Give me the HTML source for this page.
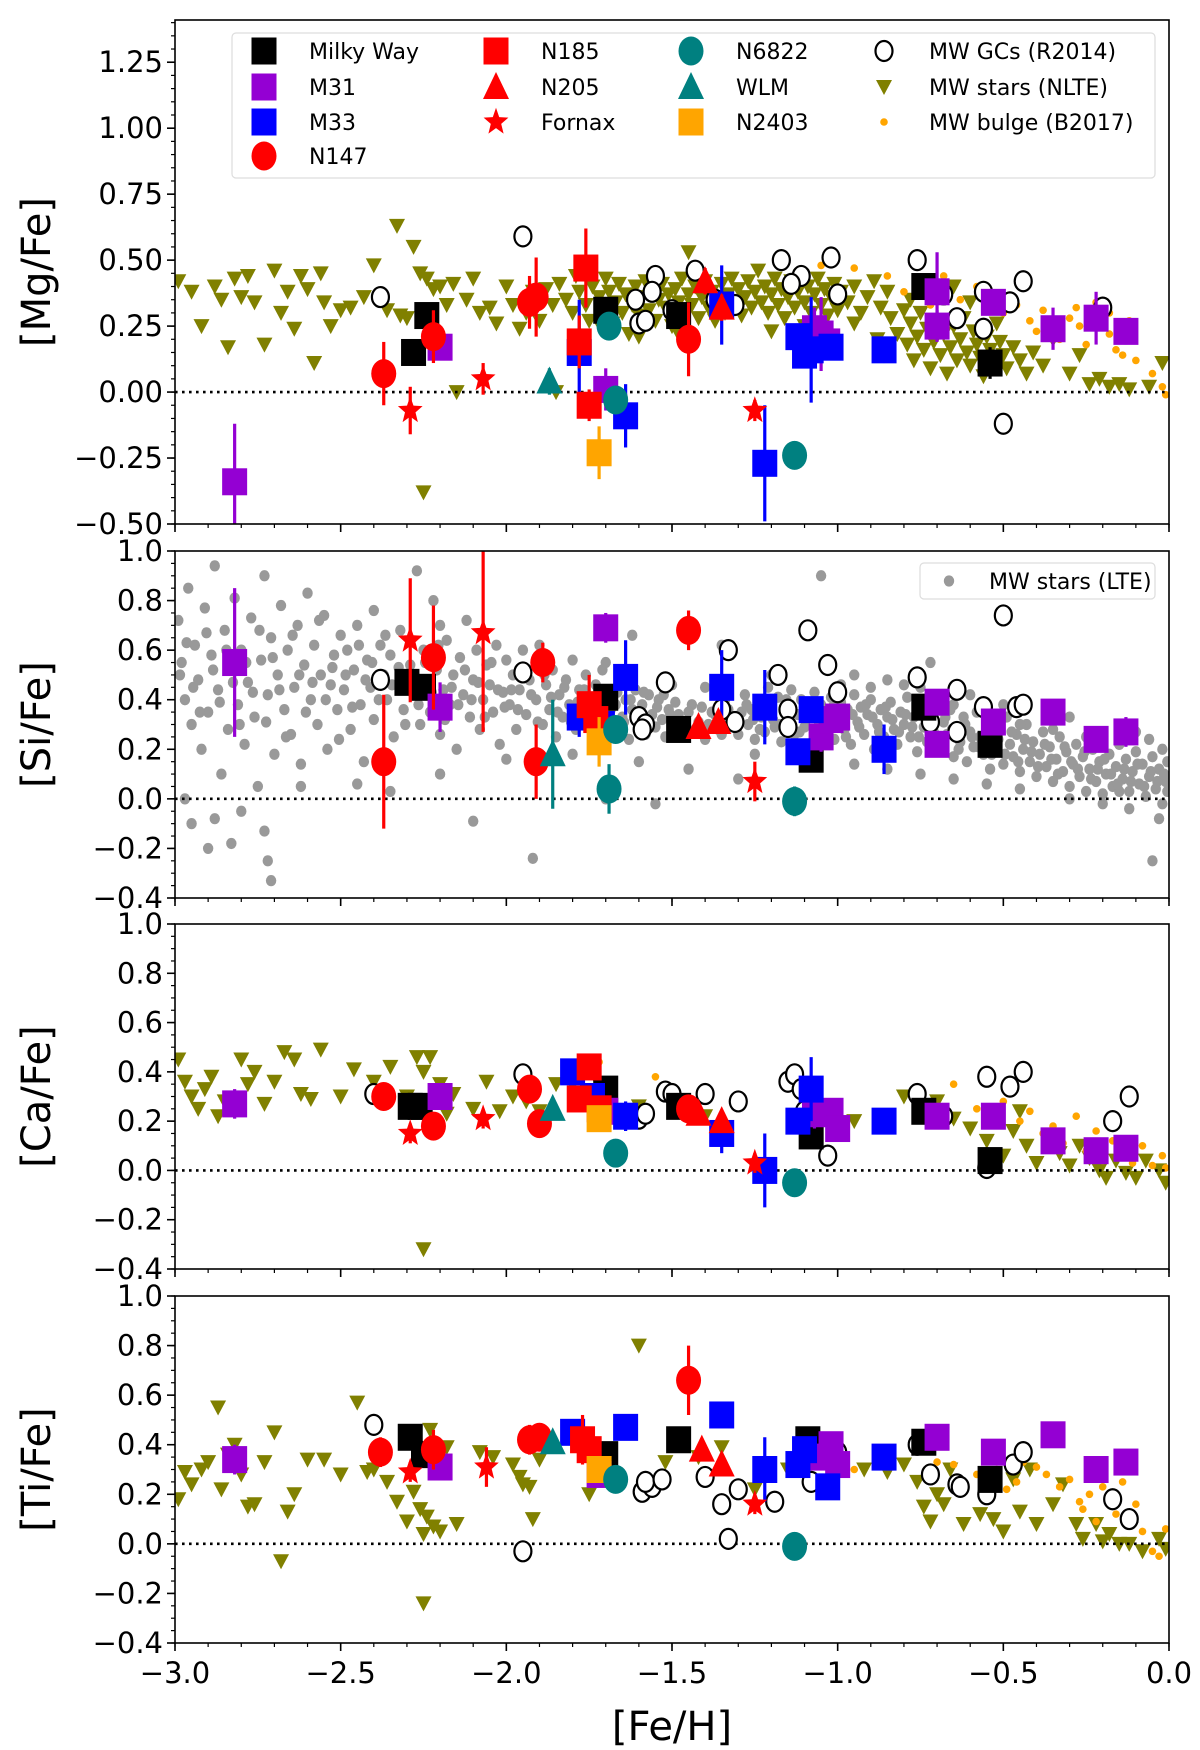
<!DOCTYPE html>
<html><head><meta charset="utf-8">
<style>
html,body{margin:0;padding:0;background:#fff;}
svg{display:block;font-family:"DejaVu Sans","Liberation Sans",sans-serif;}
</style></head>
<body>
<svg id="chart" xmlns="http://www.w3.org/2000/svg" width="1200" height="1750" viewBox="0 0 1200 1750"></svg>
<script>
// ---------- DATA ([Fe/H], [X/Fe], error) ----------
const xTicks = [-3.0,-2.5,-2.0,-1.5,-1.0,-0.5,0.0];
const xTickLabels = ["\u22123.0","\u22122.5","\u22122.0","\u22121.5","\u22121.0","\u22120.5","0.0"];
const mgTicks = [1.25,1.00,0.75,0.50,0.25,0.00,-0.25,-0.50];
const mgTickLabels = ["1.25","1.00","0.75","0.50","0.25","0.00","\u22120.25","\u22120.50"];
const xfeTicks = [1.0,0.8,0.6,0.4,0.2,0.0,-0.2,-0.4];
const xfeTickLabels = ["1.0","0.8","0.6","0.4","0.2","0.0","\u22120.2","\u22120.4"];

// Panel 1: Mg
const mg_mw = [[-2.28,0.15,0.04],[-2.24,0.29,0.04],[-1.70,0.31,0.05],[-1.48,0.29,0.04],[-0.74,0.40,0.04],[-0.54,0.11,0.06]];
const mg_m31 = [[-2.82,-0.34,0.22],[-2.20,0.17,0.05],[-1.70,0.01,0.08],[-1.07,0.24,0.08],[-1.03,0.19,0.06],[-0.70,0.38,0.15],[-0.70,0.25,0.06],[-0.53,0.34,0.04],[-0.35,0.24,0.08],[-0.22,0.28,0.10],[-0.13,0.23,0.05],[-1.05,0.22,0.14]];
const mg_m33 = [[-1.78,0.15,0.20],[-1.64,-0.09,0.12],[-1.35,0.33,0.15],[-1.12,0.21,0.05],[-1.08,0.16,0.20],[-1.02,0.17,0.04],[-0.86,0.16,0.05],[-1.22,-0.27,0.22],[-1.10,0.14,0.05]];
const mg_n147 = [[-2.37,0.07,0.12],[-2.22,0.21,0.10],[-1.93,0.34,0.10],[-1.91,0.36,0.15],[-1.45,0.20,0.14]];
const mg_n185 = [[-1.76,0.47,0.15],[-1.78,0.19,0.10],[-1.75,-0.05,0.06]];
const mg_n205 = [[-1.40,0.42,0.05],[-1.35,0.32,0.05]];
const mg_fornax = [[-2.29,-0.07,0.09],[-2.07,0.05,0.06],[-1.25,-0.07,0.04]];
const mg_n6822 = [[-1.69,0.25,0.04],[-1.67,-0.03,0.04],[-1.13,-0.24,0.02]];
const mg_wlm = [[-1.87,0.04,0.05]];
const mg_n2403 = [[-1.72,-0.23,0.10]];
const mg_gcs = [[-2.38,0.36],[-1.95,0.59],[-1.60,0.26],[-1.58,0.27],[-1.55,0.44],[-1.56,0.38],[-1.43,0.46],[-1.37,0.35],[-1.31,0.33],[-1.17,0.50],[-1.11,0.44],[-1.02,0.51],[-1.00,0.37],[-1.14,0.41],[-0.76,0.50],[-0.68,0.37],[-0.64,0.28],[-0.56,0.38],[-0.56,0.24],[-0.48,0.34],[-0.44,0.42],[-0.50,-0.12],[-0.20,0.32],[-1.35,0.34],[-1.50,0.31],[-1.61,0.35]];
const mg_nlte = [[-2.99,0.42],[-2.95,0.38],[-2.92,0.25],[-2.88,0.40],[-2.86,0.35],[-2.84,0.17],[-2.82,0.43],[-2.80,0.36],[-2.78,0.44],[-2.76,0.34],[-2.73,0.18],[-2.70,0.46],[-2.68,0.30],[-2.66,0.38],[-2.64,0.24],[-2.62,0.44],[-2.60,0.39],[-2.58,0.11],[-2.56,0.45],[-2.55,0.34],[-2.53,0.25],[-2.50,0.31],[-2.47,0.32],[-2.43,0.36],[-2.40,0.48],[-2.38,0.35],[-2.36,0.31],[-2.33,0.63],[-2.32,0.29],[-2.30,0.28],[-2.28,0.55],[-2.26,0.45],[-2.24,0.43],[-2.22,0.39],[-2.20,0.40],[-2.18,0.33],[-2.16,0.41],[-2.15,0.0],[-2.25,-0.38],[-2.12,0.35],[-2.10,0.43],[-2.08,0.30],[-2.05,0.32],[-2.03,0.26],[-2.00,0.40],[-1.98,0.33],[-1.96,0.24],[-1.94,0.30],[-1.92,0.38],[-1.90,0.27],[-1.88,0.39],[-1.86,0.33],[-1.85,0.0],
[-1.84,0.41],[-1.82,0.35],[-1.80,0.30],[-1.79,0.44],[-1.78,0.38],[-1.76,0.33],[-1.75,0.27],[-1.74,0.40],[-1.72,0.36],[-1.71,0.31],[-1.70,0.43],[-1.69,0.38],[-1.68,0.26],[-1.67,0.34],[-1.66,0.41],[-1.65,0.30],[-1.64,0.37],[-1.63,0.22],[-1.62,0.33],[-1.61,0.40],[-1.60,0.29],[-1.59,0.36],[-1.58,0.42],[-1.57,0.31],[-1.56,0.38],[-1.55,0.27],[-1.54,0.35],[-1.53,0.41],[-1.52,0.32],[-1.51,0.37],[-1.50,0.25],[-1.49,0.39],[-1.48,0.34],[-1.47,0.43],[-1.46,0.30],[-1.45,0.37],[-1.44,0.33],[-1.43,0.40],[-1.42,0.28],[-1.41,0.36],[-1.40,0.42],[-1.39,0.32],[-1.38,0.38],[-1.37,0.27],[-1.36,0.35],[-1.35,0.41],[-1.34,0.30],[-1.33,0.37],[-1.32,0.43],[-1.31,0.33],[-1.30,0.39],[-1.29,0.29],[-1.28,0.36],[-1.27,0.42],[-1.26,0.32],[-1.25,0.38],[-1.24,0.46],[-1.23,0.34],[-1.22,0.40],[-1.21,0.30],[-1.20,0.37],[-1.19,0.43],[-1.18,0.33],[-1.17,0.39],[-1.16,0.28],[-1.15,0.36],[-1.14,0.42],[-1.13,0.32],[-1.12,0.38],[-1.11,0.44],[-1.10,0.34],[-1.09,0.40],[-1.08,0.30],[-1.07,0.37],[-1.06,0.43],[-1.05,0.33],[-1.04,0.39],[-1.03,0.29],[-1.02,0.36],[-1.01,0.41],[-1.00,0.31],[-0.99,0.38],[-0.97,0.34],[-0.95,0.40],[-0.93,0.30],[-0.91,0.36],[-0.89,0.42],[-0.87,0.32],[-0.85,0.38],[-1.72,0.26],[-1.60,0.21],[-1.48,0.22],[-1.20,0.23],[-1.05,0.22],[-1.45,0.53],[-0.88,0.20],[-0.95,0.26],[-1.10,0.25],
[-0.84,0.28],[-0.82,0.22],[-0.80,0.31],[-0.79,0.18],[-0.78,0.26],[-0.77,0.12],[-0.76,0.21],[-0.75,0.30],[-0.74,0.16],[-0.73,0.24],[-0.72,0.09],[-0.71,0.19],[-0.70,0.27],[-0.69,0.14],[-0.68,0.22],[-0.67,0.07],[-0.66,0.17],[-0.65,0.25],[-0.64,0.12],[-0.63,0.20],[-0.62,0.28],[-0.61,0.15],[-0.60,0.10],[-0.59,0.23],[-0.58,0.18],[-0.57,0.13],[-0.56,0.06],[-0.55,0.21],[-0.54,0.16],[-0.53,0.11],[-0.52,0.26],[-0.51,0.19],[-0.50,0.14],[-0.49,0.09],[-0.47,0.17],[-0.45,0.12],[-0.43,0.07],[-0.41,0.15],[-0.38,0.10],[-0.35,0.20],[-0.30,0.07],[-0.27,0.14],[-0.24,0.03],[-0.21,0.05],[-0.18,0.02],[-0.15,0.03],[-0.12,0.01],[-0.06,0.02],[-0.02,0.11],[-0.60,0.34],[-0.65,0.40],[-0.70,0.36],[-0.78,0.35]];
const mg_bulge = [[-1.05,0.48],[-0.95,0.47],[-0.85,0.44],[-0.80,0.38],[-0.68,0.44],[-0.63,0.35],[-0.58,0.40],[-0.50,0.30],[-0.46,0.33],[-0.42,0.27],[-0.38,0.31],[-0.33,0.20],[-0.30,0.28],[-0.28,0.32],[-0.25,0.18],[-0.22,0.34],[-0.20,0.25],[-0.18,0.22],[-0.16,0.16],[-0.14,0.14],[-0.12,0.27],[-0.10,0.12],[-0.05,0.07],[-0.02,0.02],[-0.01,-0.01],[-0.72,0.33],[-0.55,0.36],[-0.40,0.23],[-0.27,0.25],[-0.18,0.30]];

// Panel 2: Si
const si_mw = [[-2.30,0.47,0.05],[-2.25,0.45,0.05],[-1.70,0.41,0.05],[-1.48,0.28,0.04],[-1.08,0.16,0.05],[-0.74,0.37,0.04],[-0.54,0.22,0.04]];
const si_m31 = [[-2.82,0.55,0.30],[-2.20,0.37,0.10],[-1.70,0.69,0.06],[-1.05,0.25,0.06],[-1.02,0.32,0.05],[-0.70,0.39,0.04],[-0.70,0.22,0.04],[-0.53,0.31,0.04],[-0.35,0.35,0.04],[-0.22,0.24,0.04],[-0.13,0.27,0.06],[-1.00,0.33,0.05]];
const si_m33 = [[-1.78,0.33,0.08],[-1.64,0.49,0.15],[-1.35,0.45,0.15],[-1.22,0.37,0.15],[-1.12,0.19,0.05],[-1.08,0.36,0.05],[-0.86,0.20,0.10],[-1.71,0.30,0.05]];
const si_n147 = [[-2.37,0.15,0.27],[-2.22,0.57,0.21],[-1.91,0.15,0.15],[-1.89,0.55,0.08],[-1.45,0.68,0.08]];
const si_n185 = [[-1.75,0.38,0.12],[-1.73,0.32,0.10]];
const si_n205 = [[-1.42,0.29,0.04],[-1.36,0.31,0.04]];
const si_fornax = [[-2.29,0.64,0.25],[-2.07,0.67,0.40],[-1.25,0.07,0.08]];
const si_n6822 = [[-1.69,0.04,0.10],[-1.67,0.28,0.05],[-1.13,-0.01,0.06]];
const si_wlm = [[-1.86,0.18,0.22]];
const si_n2403 = [[-1.72,0.23,0.10]];
const si_gcs = [[-2.38,0.48],[-1.95,0.51],[-1.60,0.33],[-1.58,0.30],[-1.52,0.47],[-1.33,0.60],[-1.31,0.31],[-1.35,0.36],[-1.18,0.50],[-1.15,0.36],[-1.09,0.68],[-1.03,0.54],[-1.00,0.43],[-0.76,0.49],[-0.72,0.31],[-0.64,0.44],[-0.64,0.27],[-0.56,0.37],[-0.46,0.37],[-0.44,0.38],[-0.50,0.74],[-1.15,0.29],[-1.59,0.28]];
const si_lte = [[-2.99,0.72],[-2.98,0.55],[-2.97,0.40],[-2.96,0.85],[-2.95,0.30],[-2.94,0.62],[-2.93,0.48],[-2.92,0.20],[-2.91,0.77],[-2.90,0.35],[-2.89,0.58],[-2.88,0.94],[-2.87,0.44],[-2.86,0.10],[-2.85,0.68],[-2.84,0.28],[-2.83,0.52],[-2.82,0.81],[-2.81,0.38],[-2.80,0.60],[-2.79,0.22],[-2.78,0.47],[-2.77,0.73],[-2.76,0.33],[-2.75,0.05],[-2.74,0.56],[-2.73,0.90],[-2.72,0.42],[-2.71,0.65],[-2.70,0.18],[-2.69,0.50],[-2.68,0.78],[-2.67,0.36],[-2.66,0.60],[-2.65,0.26],[-2.64,0.45],[-2.63,0.70],[-2.62,0.14],[-2.61,0.54],[-2.60,0.83],[-2.59,0.40],[-2.58,0.62],[-2.57,0.30],[-2.56,0.50],[-2.55,0.74],[-2.54,0.20],[-2.53,0.46],[-2.52,0.58],[-2.51,0.36],[-2.50,0.66],[-2.95,-0.1],[-2.90,-0.2],[-2.88,-0.08],[-2.80,-0.05],[-2.72,-0.25],[-2.71,-0.33],[-2.73,-0.13],[-2.97,0.00],[-2.83,-0.18],[-2.62,0.05],
[-2.49,0.44],[-2.48,0.60],[-2.47,0.28],[-2.46,0.52],[-2.45,0.70],[-2.44,0.38],[-2.43,0.15],[-2.42,0.56],[-2.41,0.45],[-2.40,0.32],[-2.38,0.62],[-2.37,0.50],[-2.36,0.40],[-2.35,0.58],[-2.34,0.25],[-2.33,0.46],[-2.32,0.68],[-2.31,0.36],[-2.29,0.54],[-2.28,0.42],[-2.27,0.92],[-2.26,0.30],[-2.25,0.60],[-2.24,0.48],[-2.23,0.35],[-2.22,0.80],[-2.21,0.52],[-2.20,0.26],[-2.19,0.44],[-2.18,0.64],[-2.17,0.38],[-2.16,0.50],[-2.15,0.20],[-2.14,0.57],[-2.13,0.42],[-2.12,0.72],[-2.11,0.33],[-2.10,0.48],[-2.09,0.60],[-2.08,0.28],[-2.07,0.40],[-2.06,0.54],[-2.05,0.46],[-2.04,0.35],[-2.03,0.62],[-2.02,0.22],[-2.01,0.43],[-2.00,0.56],[-2.35,0.03],[-2.10,-0.09],
[-1.99,0.38],[-1.98,0.50],[-1.97,0.28],[-1.96,0.44],[-1.95,0.60],[-1.94,0.34],[-1.93,0.48],[-1.92,-0.24],[-1.91,0.40],[-1.90,0.56],[-1.89,0.30],[-1.88,0.46],[-1.87,0.36],[-1.86,0.52],[-1.85,0.25],[-1.84,0.42],[-1.83,0.33],[-1.82,0.48],[-1.81,0.38],[-1.80,0.56],[-1.79,0.28],[-1.78,0.44],[-1.77,0.34],[-1.76,0.50],[-1.75,0.40],[-1.74,0.30],[-1.73,0.46],[-1.72,0.37],[-1.71,0.52],[-1.70,0.32],[-1.69,0.42],[-1.68,0.27],[-1.67,0.38],[-1.66,0.47],[-1.65,0.33],[-1.64,0.40],[-1.63,0.24],[-1.62,0.36],[-1.61,0.44],[-1.60,0.30],[-1.59,0.38],[-1.58,0.26],[-1.57,0.42],[-1.56,0.34],[-1.55,0.29],[-1.54,0.40],[-1.53,0.32],[-1.52,0.25],[-1.51,0.36],[-1.50,0.30],[-1.48,0.34],[-1.46,0.27],[-1.44,0.38],[-1.42,0.31],[-1.40,0.24],[-1.38,0.35],[-1.36,0.28],[-1.34,0.40],[-1.32,0.32],[-1.30,0.26],[-1.70,0.0],[-1.55,-0.02],[-1.30,0.08],[-1.35,0.62],[-1.62,0.66],[-1.05,0.9],
[-1.28,0.42],[-1.27,0.30],[-1.26,0.36],[-1.25,0.24],[-1.24,0.40],[-1.23,0.33],[-1.22,0.27],[-1.21,0.45],[-1.20,0.35],[-1.19,0.29],[-1.18,0.41],[-1.17,0.23],[-1.16,0.37],[-1.15,0.31],[-1.14,0.44],[-1.13,0.26],[-1.12,0.34],[-1.11,0.40],[-1.10,0.29],[-1.09,0.36],[-1.08,0.22],[-1.07,0.43],[-1.06,0.32],[-1.05,0.38],[-1.04,0.27],[-1.03,0.35],[-1.02,0.41],[-1.01,0.24],[-1.00,0.33],[-0.99,0.39],[-0.98,0.28],[-0.97,0.36],[-0.96,0.22],[-0.95,0.42],[-0.94,0.31],[-0.93,0.37],[-0.92,0.26],[-0.91,0.34],[-0.90,0.40],[-0.89,0.20],[-0.88,0.30],[-0.87,0.36],[-0.86,0.25],[-0.85,0.33],[-0.84,0.39],[-0.83,0.28],[-0.82,0.22],[-0.81,0.35],[-0.80,0.30],[-0.79,0.41],[-0.78,0.25],[-0.77,0.33],[-0.76,0.19],[-0.75,0.37],[-0.74,0.29],[-0.73,0.23],[-0.72,0.34],[-0.71,0.27],[-0.70,0.40],[-0.69,0.20],[-0.68,0.31],[-0.67,0.26],[-0.66,0.36],[-0.65,0.17],[-0.64,0.29],[-0.63,0.23],[-0.62,0.33],[-0.61,0.15],[-0.60,0.27],[-0.59,0.21],[-0.58,0.35],[-0.57,0.25],[-0.56,0.18],[-0.55,0.30],[-0.54,0.12],[-0.53,0.24],[-0.52,0.20],[-0.51,0.28],[-0.50,0.14],[-0.49,0.33],[-0.48,0.22],[-0.47,0.17],[-0.46,0.26],[-0.45,0.11],[-0.44,0.20],[-0.43,0.30],[-0.42,0.15],[-0.41,0.23],[-0.40,0.09],[-0.39,0.18],[-0.38,0.27],[-0.37,0.13],[-0.36,0.21],[-0.35,0.07],[-0.34,0.16],[-0.33,0.25],[-0.32,0.11],[-0.31,0.19],[-0.30,0.05],[-0.29,0.14],[-0.28,0.22],[-0.27,0.09],[-0.26,0.17],[-0.25,0.03],[-0.24,0.12],[-0.23,0.20],[-0.22,0.07],[-0.21,0.15],[-0.20,0.02],[-0.19,0.10],[-0.18,0.18],[-0.17,0.05],[-0.16,0.13],[-0.15,0.22],[-0.14,0.08],[-0.13,0.16],[-0.12,0.03],[-0.11,0.11],[-0.10,0.19],[-0.09,0.06],[-0.08,0.14],[-0.07,0.01],[-0.06,0.09],[-0.05,0.17],[-0.04,0.04],[-0.03,0.12],[-0.02,-0.02],[-0.01,0.07],[-0.005,0.15],[-0.02,0.20],[-0.06,0.24],[-0.10,0.27],[-0.15,0.03],[-0.03,-0.08],[-0.05,-0.25],[-0.30,0.33],[-0.50,0.38],[-0.60,0.42],[-0.80,0.46],[-0.95,0.50],[-0.72,0.55]];
const si_lte_extra = [[-2.985,0.50],[-2.965,0.63],[-2.945,0.45],[-2.925,0.35],[-2.905,0.67],[-2.885,0.52],[-2.865,0.39],[-2.845,0.60],[-2.825,0.47],[-2.805,0.30],[-2.785,0.55],[-2.765,0.43],[-2.745,0.68],[-2.725,0.31],[-2.705,0.57],[-2.685,0.44],[-2.665,0.25],[-2.645,0.66],[-2.625,0.50],[-2.605,0.35],[-2.585,0.47],[-2.565,0.72],[-2.545,0.40],[-2.525,0.53],[-2.505,0.24],[-2.485,0.50],[-2.465,0.37],[-2.445,0.62],[-2.425,0.48],[-2.405,0.55],[-2.385,0.40],[-2.365,0.66],[-2.345,0.46],[-2.325,0.53],[-2.305,0.30],[-2.285,0.49],[-2.265,0.38],[-2.245,0.55],[-2.225,0.43],[-2.205,0.62],[-2.185,0.32],[-2.165,0.45],[-2.145,0.38],[-2.125,0.52],[-2.105,0.40],[-2.085,0.47],[-2.065,0.33],[-2.045,0.55],[-2.025,0.44],[-2.005,0.37],
[-1.985,0.44],[-1.965,0.36],[-1.945,0.52],[-1.925,0.42],[-1.905,0.31],[-1.885,0.50],[-1.865,0.41],[-1.845,0.35],[-1.825,0.45],[-1.805,0.31],[-1.785,0.39],[-1.765,0.44],[-1.745,0.35],[-1.725,0.42],[-1.705,0.28],[-1.685,0.36],[-1.665,0.43],[-1.645,0.31],[-1.625,0.40],[-1.605,0.35],[-1.585,0.43],[-1.565,0.30],[-1.545,0.37],[-1.525,0.42],[-1.505,0.34],[-1.49,0.39],[-1.47,0.31],[-1.45,0.35],[-1.43,0.28],[-1.41,0.37],[-1.39,0.30],[-1.37,0.34],[-1.35,0.26],[-1.33,0.36],[-1.31,0.29],[-1.29,0.35],
[-1.275,0.38],[-1.255,0.32],[-1.235,0.28],[-1.215,0.37],[-1.195,0.32],[-1.175,0.30],[-1.155,0.40],[-1.135,0.34],[-1.115,0.27],[-1.095,0.32],[-1.075,0.38],[-1.055,0.27],[-1.035,0.31],[-1.015,0.37],[-0.995,0.30],[-0.975,0.25],[-0.955,0.34],[-0.935,0.29],[-0.915,0.38],[-0.895,0.33],[-0.875,0.27],[-0.855,0.37],[-0.835,0.32],[-0.815,0.27],[-0.795,0.34],[-0.775,0.29],[-0.755,0.25],[-0.735,0.32],[-0.715,0.28],[-0.695,0.24],[-0.675,0.33],[-0.655,0.28],[-0.635,0.20],[-0.615,0.30],[-0.595,0.25],[-0.575,0.21],[-0.555,0.26],[-0.535,0.18],[-0.515,0.24],[-0.495,0.18],[-0.475,0.27],[-0.455,0.15],[-0.435,0.24],[-0.415,0.19],[-0.395,0.13],[-0.375,0.22],[-0.355,0.16],[-0.335,0.10],[-0.315,0.21],[-0.295,0.15],[-0.275,0.12],[-0.255,0.19],[-0.235,0.08],[-0.215,0.12],[-0.195,0.16],[-0.175,0.10],[-0.155,0.06],[-0.135,0.12],[-0.115,0.07],[-0.095,0.14],[-0.075,0.05],[-0.055,0.11],[-0.035,0.07],[-0.015,0.10],[-0.005,0.03],
[-0.99,0.46],[-0.9,0.45],[-0.85,0.48],[-0.75,0.45],[-0.65,0.38],[-0.55,0.35],[-0.45,0.30],[-0.35,0.28],[-0.25,0.25],[-0.15,0.22],[-1.25,0.18],[-1.1,0.16],[-0.95,0.14],[-0.85,0.12],[-0.75,0.10],[-0.65,0.08],[-0.55,0.06],[-0.45,0.04],[-0.3,0.0],[-0.2,-0.02],[-0.12,-0.04],[-1.2,0.50],[-1.4,0.45],[-1.5,0.46],[-1.7,0.55],[-1.9,0.62],[-2.2,0.70],[-2.4,0.76],[-1.8,0.18],[-1.6,0.15],[-1.45,0.12],[-2.0,0.16],[-2.2,0.10],[-2.45,0.06]];

// Panel 3: Ca
const ca_mw = [[-2.29,0.26,0.04],[-2.26,0.26,0.04],[-1.70,0.33,0.04],[-1.48,0.26,0.04],[-1.08,0.14,0.04],[-0.74,0.24,0.04],[-0.54,0.04,0.04],[-1.71,0.30,0.04]];
const ca_m31 = [[-2.82,0.27,0.06],[-2.20,0.30,0.05],[-1.70,0.24,0.05],[-1.07,0.23,0.06],[-1.02,0.24,0.05],[-1.00,0.17,0.05],[-0.70,0.22,0.05],[-0.53,0.22,0.04],[-0.35,0.12,0.04],[-0.22,0.08,0.04],[-0.13,0.09,0.04]];
const ca_m33 = [[-1.80,0.40,0.05],[-1.64,0.22,0.06],[-1.35,0.15,0.08],[-1.22,0.00,0.15],[-1.12,0.20,0.05],[-1.08,0.33,0.13],[-0.86,0.20,0.04],[-1.74,0.30,0.05]];
const ca_n147 = [[-2.37,0.30,0.04],[-2.22,0.18,0.04],[-1.93,0.33,0.05],[-1.90,0.19,0.04],[-1.45,0.25,0.04]];
const ca_n185 = [[-1.78,0.29,0.05],[-1.75,0.42,0.05],[-1.72,0.25,0.05]];
const ca_n205 = [[-1.42,0.23,0.04],[-1.35,0.20,0.04]];
const ca_fornax = [[-2.29,0.15,0.04],[-2.07,0.21,0.04],[-1.25,0.03,0.04]];
const ca_n6822 = [[-1.67,0.07,0.03],[-1.13,-0.05,0.03]];
const ca_wlm = [[-1.86,0.25,0.04]];
const ca_n2403 = [[-1.72,0.21,0.04]];
const ca_gcs = [[-2.40,0.31],[-1.95,0.39],[-1.60,0.21],[-1.52,0.32],[-1.50,0.31],[-1.40,0.31],[-1.30,0.28],[-1.15,0.36],[-1.13,0.39],[-1.11,0.33],[-1.03,0.06],[-1.10,0.24],[-0.76,0.31],[-0.55,0.38],[-0.55,0.01],[-0.48,0.34],[-0.44,0.40],[-0.17,0.20],[-0.12,0.30],[-0.68,0.22],[-1.58,0.23]];
const ca_nlte = [[-2.99,0.45],[-2.97,0.36],[-2.95,0.30],[-2.93,0.25],[-2.91,0.33],[-2.89,0.38],[-2.87,0.22],[-2.85,0.28],[-2.80,0.45],[-2.78,0.35],[-2.76,0.40],[-2.73,0.27],[-2.70,0.36],[-2.67,0.48],[-2.64,0.45],[-2.62,0.31],[-2.59,0.29],[-2.56,0.49],[-2.50,0.30],[-2.46,0.41],[-2.40,0.36],[-2.35,0.42],[-2.30,0.30],[-2.27,0.46],[-2.25,0.40],[-2.23,0.46],[-2.20,0.35],[-2.18,0.23],[-2.16,0.31],[-2.10,0.25],[-2.06,0.36],[-2.02,0.24],[-1.98,0.30],[-1.94,0.28],[-1.90,0.24],[-1.85,0.35],[-1.80,0.35],[-2.25,-0.32],[-1.72,0.35],[-1.60,0.26],[-1.40,0.22],[-1.10,0.28],[-0.95,0.20],[-0.80,0.30],[-0.65,0.21],[-0.60,0.17],[-0.55,0.12],[-0.50,0.06],[-0.47,0.16],[-0.43,0.10],[-0.40,0.03],[-0.36,0.14],[-0.33,0.07],[-0.30,0.02],[-0.27,0.10],[-0.24,0.05],[-0.21,0.00],[-0.19,-0.03],[-0.16,0.04],[-0.13,-0.01],[-0.10,-0.03],[-0.07,0.04],[-0.03,0.00],[-0.01,-0.05],[-0.70,0.28],[-0.45,0.24]];
const ca_bulge = [[-1.72,0.44],[-1.55,0.38],[-0.75,0.30],[-0.65,0.35],[-0.58,0.25],[-0.50,0.28],[-0.45,0.20],[-0.42,0.24],[-0.38,0.15],[-0.35,0.18],[-0.32,0.11],[-0.28,0.22],[-0.25,0.08],[-0.22,0.16],[-0.20,0.04],[-0.17,0.12],[-0.14,0.06],[-0.11,0.03],[-0.08,0.10],[-0.05,0.02],[-0.02,0.06],[-0.01,0.01]];

// Panel 4: Ti
const ti_mw = [[-2.29,0.43,0.04],[-2.25,0.36,0.04],[-1.70,0.36,0.04],[-1.48,0.42,0.04],[-1.09,0.42,0.04],[-0.74,0.41,0.04],[-0.54,0.26,0.04]];
const ti_m31 = [[-2.82,0.34,0.06],[-2.20,0.31,0.05],[-1.72,0.28,0.04],[-1.07,0.35,0.05],[-1.02,0.40,0.05],[-1.00,0.32,0.05],[-0.70,0.43,0.05],[-0.53,0.37,0.04],[-0.35,0.44,0.04],[-0.22,0.30,0.04],[-0.13,0.33,0.04]];
const ti_m33 = [[-1.80,0.45,0.05],[-1.64,0.47,0.05],[-1.35,0.52,0.05],[-1.22,0.30,0.13],[-1.12,0.32,0.05],[-1.10,0.38,0.05],[-1.03,0.23,0.04],[-0.86,0.35,0.04]];
const ti_n147 = [[-2.38,0.37,0.06],[-2.22,0.38,0.08],[-1.93,0.42,0.06],[-1.90,0.43,0.04],[-1.45,0.66,0.14]];
const ti_n185 = [[-1.77,0.42,0.10],[-1.75,0.38,0.07]];
const ti_n205 = [[-1.41,0.38,0.04],[-1.35,0.32,0.04]];
const ti_fornax = [[-2.29,0.29,0.04],[-2.06,0.31,0.08],[-1.25,0.16,0.04]];
const ti_n6822 = [[-1.67,0.26,0.05],[-1.13,-0.01,0.05]];
const ti_wlm = [[-1.86,0.41,0.04]];
const ti_n2403 = [[-1.72,0.30,0.04]];
const ti_gcs = [[-2.40,0.48],[-1.95,-0.03],[-1.59,0.21],[-1.56,0.23],[-1.58,0.25],[-1.53,0.26],[-1.40,0.27],[-1.35,0.16],[-1.30,0.22],[-1.33,0.02],[-1.19,0.17],[-1.08,0.25],[-0.72,0.28],[-0.64,0.24],[-0.63,0.23],[-0.55,0.20],[-0.47,0.32],[-0.44,0.37],[-0.17,0.18],[-0.12,0.10],[-0.76,0.40],[-1.00,0.37]];
const ti_nlte = [[-2.99,0.18],[-2.97,0.29],[-2.95,0.24],[-2.92,0.30],[-2.90,0.33],[-2.87,0.55],[-2.86,0.22],[-2.84,0.36],[-2.82,0.40],[-2.80,0.28],[-2.78,0.15],[-2.76,0.16],[-2.73,0.33],[-2.70,0.45],[-2.68,-0.07],[-2.66,0.13],[-2.64,0.20],[-2.60,0.34],[-2.55,0.34],[-2.50,0.28],[-2.45,0.57],[-2.42,0.29],[-2.40,0.30],[-2.36,0.25],[-2.33,0.17],[-2.30,0.09],[-2.28,0.21],[-2.26,0.14],[-2.25,0.04],[-2.24,0.11],[-2.23,0.46],[-2.22,0.07],[-2.20,0.05],[-2.18,0.39],[-2.15,0.08],[-2.25,-0.24],[-2.08,0.37],[-2.04,0.35],[-1.98,0.32],[-1.96,0.27],[-1.95,0.24],[-1.93,0.23],[-1.92,0.10],[-1.90,0.34],[-1.75,0.20],[-1.60,0.80],[-1.52,0.33],[-1.42,0.35],[-1.35,0.39],[-1.25,0.22],[-1.15,0.30],[-1.00,0.30],[-0.92,0.30],[-0.85,0.29],[-0.80,0.32],[-0.76,0.25],[-0.74,0.15],[-0.72,0.09],[-0.70,0.20],[-0.68,0.16],[-0.66,0.30],[-0.62,0.08],[-0.57,0.12],[-0.53,0.10],[-0.50,0.05],[-0.47,0.26],[-0.45,0.13],[-0.42,0.30],[-0.40,0.08],[-0.35,0.16],[-0.32,0.24],[-0.28,0.08],[-0.26,0.02],[-0.22,0.08],[-0.20,0.01],[-0.18,0.04],[-0.15,0.00],[-0.12,0.00],[-0.08,-0.03],[-0.03,0.02],[-0.01,-0.02]];
const ti_bulge = [[-0.95,0.30],[-0.70,0.33],[-0.65,0.32],[-0.58,0.28],[-0.52,0.30],[-0.49,0.22],[-0.46,0.25],[-0.44,0.33],[-0.40,0.31],[-0.37,0.28],[-0.33,0.23],[-0.30,0.26],[-0.27,0.17],[-0.26,0.14],[-0.24,0.20],[-0.22,0.09],[-0.20,0.23],[-0.18,0.17],[-0.16,0.12],[-0.14,0.25],[-0.12,0.08],[-0.10,0.16],[-0.08,0.05],[-0.05,-0.03],[-0.03,-0.05],[-0.01,0.06]];

// ---------- RENDERING ----------
const NS = "http://www.w3.org/2000/svg";
const svg = document.getElementById('chart');
const X0 = 175, X1 = 1169, XMIN = -3, XMAX = 0;
function xScale(v){ return X0 + (v - XMIN) / (XMAX - XMIN) * (X1 - X0); }
function yScaleFor(p){ return function(v){ return p.bot - (v - p.ymin) / (p.ymax - p.ymin) * (p.bot - p.top); }; }
function el(tag, attrs, parent){
  const e = document.createElementNS(NS, tag);
  for (const k in attrs) e.setAttribute(k, attrs[k]);
  (parent || svg).appendChild(e);
  return e;
}
const COL = {mw:'#000000', m31:'#9400d3', m33:'#0000ff', red:'#ff0000', teal:'#008080', orange:'#ffa500', olive:'#808000', grey:'#999999'};

function drawMarker(g, shape, cx, cy, color, name){
  let m;
  if (shape === 'square'){
    m = el('rect', {x:cx-12.5, y:cy-13.5, width:25, height:27, fill:color}, g);
  } else if (shape === 'circle'){
    m = el('ellipse', {cx:cx, cy:cy, rx:12.5, ry:14.5, fill:color}, g);
  } else if (shape === 'tri'){
    m = el('polygon', {points:(cx)+','+(cy-15)+' '+(cx+13)+','+(cy+12)+' '+(cx-13)+','+(cy+12), fill:color}, g);
  } else if (shape === 'star'){
    let pts = [];
    for (let i=0;i<10;i++){ const r = i%2===0 ? 13 : 5.5; const a = -Math.PI/2 + i*Math.PI/5; pts.push((cx + r*Math.cos(a)).toFixed(1)+','+(cy + r*Math.sin(a)*1.1).toFixed(1)); }
    m = el('polygon', {points:pts.join(' '), fill:color}, g);
  } else if (shape === 'open'){
    m = el('ellipse', {cx:cx, cy:cy, rx:8.5, ry:10, fill:'#fff', stroke:'#000', 'stroke-width':2.2}, g);
  } else if (shape === 'down'){
    m = el('polygon', {points:(cx-8)+','+(cy-7)+' '+(cx+8)+','+(cy-7)+' '+cx+','+(cy+8), fill:color}, g);
  } else if (shape === 'dot'){
    m = el('circle', {cx:cx, cy:cy, r:3.8, fill:color}, g);
  } else if (shape === 'gdot'){
    m = el('ellipse', {cx:cx, cy:cy, rx:5.2, ry:5.6, fill:color}, g);
  }
  
  
  return m;
}

function drawSeries(g, ys, data, shape, color, name, withErr){
  data.forEach(function(d){
    const cx = xScale(d[0]), cy = ys(d[1]);
    if (withErr && d[2]){
      const eb = el('line', {x1:cx, x2:cx, y1:ys(d[1]-d[2]), y2:ys(d[1]+d[2]), stroke:color, 'stroke-width':3.2}, g);
      
      
    }
    drawMarker(g, shape, cx, cy, color, name + '-point');
  });
}

const panels = [
  {key:'mg', top:20, bot:524, ymin:-0.5, ymax:1.41, ticks:mgTicks, labels:mgTickLabels, minor:0.05, title:'[Mg/Fe]'},
  {key:'si', top:551, bot:898, ymin:-0.4, ymax:1.0, ticks:xfeTicks, labels:xfeTickLabels, minor:0.05, title:'[Si/Fe]'},
  {key:'ca', top:924, bot:1269, ymin:-0.4, ymax:1.0, ticks:xfeTicks, labels:xfeTickLabels, minor:0.05, title:'[Ca/Fe]'},
  {key:'ti', top:1296, bot:1643, ymin:-0.4, ymax:1.0, ticks:xfeTicks, labels:xfeTickLabels, minor:0.05, title:'[Ti/Fe]'}
];
const seriesByPanel = {
  mg:{mw:mg_mw,m31:mg_m31,m33:mg_m33,n147:mg_n147,n185:mg_n185,n205:mg_n205,fornax:mg_fornax,n6822:mg_n6822,wlm:mg_wlm,n2403:mg_n2403,gcs:mg_gcs,nlte:mg_nlte,bulge:mg_bulge},
  si:{mw:si_mw,m31:si_m31,m33:si_m33,n147:si_n147,n185:si_n185,n205:si_n205,fornax:si_fornax,n6822:si_n6822,wlm:si_wlm,n2403:si_n2403,gcs:si_gcs,lte:si_lte.concat(si_lte_extra)},
  ca:{mw:ca_mw,m31:ca_m31,m33:ca_m33,n147:ca_n147,n185:ca_n185,n205:ca_n205,fornax:ca_fornax,n6822:ca_n6822,wlm:ca_wlm,n2403:ca_n2403,gcs:ca_gcs,nlte:ca_nlte,bulge:ca_bulge},
  ti:{mw:ti_mw,m31:ti_m31,m33:ti_m33,n147:ti_n147,n185:ti_n185,n205:ti_n205,fornax:ti_fornax,n6822:ti_n6822,wlm:ti_wlm,n2403:ti_n2403,gcs:ti_gcs,nlte:ti_nlte,bulge:ti_bulge}
};

const defs = el('defs', {});
panels.forEach(function(p, idx){
  const ys = yScaleFor(p);
  const cp = el('clipPath', {id:'clip-'+p.key}, defs);
  el('rect', {x:X0, y:p.top, width:X1-X0, height:p.bot-p.top}, cp);

  const g = el('g', {'clip-path':'url(#clip-'+p.key+')'});
  
  

  const S = seriesByPanel[p.key];
  if (S.lte) drawSeries(g, ys, S.lte, 'gdot', COL.grey, 'mw-stars-lte', false);
  if (S.nlte) drawSeries(g, ys, S.nlte, 'down', COL.olive, 'mw-stars-nlte', false);
  if (S.bulge) drawSeries(g, ys, S.bulge, 'dot', COL.orange, 'mw-bulge', false);

  const zl = el('line', {x1:X0, x2:X1, y1:ys(0), y2:ys(0), stroke:'#000', 'stroke-width':2.6, 'stroke-dasharray':'2.6,4.4'}, g);
  
  

  drawSeries(g, ys, S.gcs, 'open', '#000', 'mw-gcs', false);
  drawSeries(g, ys, S.mw, 'square', COL.mw, 'milky-way', true);
  drawSeries(g, ys, S.m31, 'square', COL.m31, 'm31', true);
  drawSeries(g, ys, S.m33, 'square', COL.m33, 'm33', true);
  drawSeries(g, ys, S.n185, 'square', COL.red, 'n185', true);
  drawSeries(g, ys, S.n2403, 'square', COL.orange, 'n2403', true);
  drawSeries(g, ys, S.n147, 'circle', COL.red, 'n147', true);
  drawSeries(g, ys, S.n205, 'tri', COL.red, 'n205', true);
  drawSeries(g, ys, S.fornax, 'star', COL.red, 'fornax', true);
  drawSeries(g, ys, S.n6822, 'circle', COL.teal, 'n6822', true);
  drawSeries(g, ys, S.wlm, 'tri', COL.teal, 'wlm', true);

  const fr = el('rect', {x:X0, y:p.top, width:X1-X0, height:p.bot-p.top, fill:'none', stroke:'#000', 'stroke-width':1.6});
  
  

  const yaxis = el('g', {});
  
  
  const nMin = Math.round((p.ymax - p.ymin) / p.minor);
  for (let i = 0; i <= nMin; i++){
    const v = p.ymin + i * p.minor;
    if (v > p.ymax + 1e-9) break;
    el('line', {x1:X0-4, x2:X0, y1:ys(v), y2:ys(v), stroke:'#000', 'stroke-width':1.2}, yaxis);
  }
  p.ticks.forEach(function(v, i){
    el('line', {x1:X0-8, x2:X0, y1:ys(v), y2:ys(v), stroke:'#000', 'stroke-width':1.6}, yaxis);
    const t = el('text', {x:X0-12, y:ys(v)+10, 'text-anchor':'end', 'font-size':29, fill:'#000'}, yaxis);
    t.textContent = p.labels[i];
    
    
  });
  const yt = el('text', {x:0, y:0, transform:'translate(50,'+((p.top+p.bot)/2)+') rotate(-90)', 'text-anchor':'middle', 'font-size':40, fill:'#000'});
  yt.textContent = p.title;
  
  

  const xaxis = el('g', {});
  
  
  for (let i = 0; i <= 30; i++){
    const v = XMIN + i * 0.1;
    el('line', {x1:xScale(v), x2:xScale(v), y1:p.bot, y2:p.bot+4, stroke:'#000', 'stroke-width':1.2}, xaxis);
  }
  xTicks.forEach(function(v, i){
    el('line', {x1:xScale(v), x2:xScale(v), y1:p.bot, y2:p.bot+8, stroke:'#000', 'stroke-width':1.6}, xaxis);
    if (idx === panels.length - 1){
      const t = el('text', {x:xScale(v), y:p.bot+40, 'text-anchor':'middle', 'font-size':29, fill:'#000'}, xaxis);
      t.textContent = xTickLabels[i];
      
      
    }
  });
});
const xt = el('text', {x:(X0+X1)/2, y:1740, 'text-anchor':'middle', 'font-size':40, fill:'#000'});
xt.textContent = '[Fe/H]';



// ---------- LEGENDS ----------
const lg = el('g', {});


el('rect', {x:232, y:33, width:923, height:145, rx:4, fill:'#fff', 'fill-opacity':0.85, stroke:'#dddddd', 'stroke-width':1.2}, lg);
const legendEntries = [
  [264,51,'square',COL.mw,'Milky Way'],[264,87,'square',COL.m31,'M31'],[264,122,'square',COL.m33,'M33'],[264,156,'circle',COL.red,'N147'],
  [496,51,'square',COL.red,'N185'],[496,87,'tri',COL.red,'N205'],[496,122,'star',COL.red,'Fornax'],
  [691,51,'circle',COL.teal,'N6822'],[691,87,'tri',COL.teal,'WLM'],[691,122,'square',COL.orange,'N2403'],
  [884,51,'open','#000','MW GCs (R2014)'],[884,87,'down',COL.olive,'MW stars (NLTE)'],[884,122,'dot',COL.orange,'MW bulge (B2017)']
];
legendEntries.forEach(function(e){
  const eg = el('g', {}, lg);
  
  
  drawMarker(eg, e[2], e[0], e[1], e[3], 'legend-marker');
  const t = el('text', {x:e[0]+45, y:e[1]+8, 'font-size':22, fill:'#000'}, eg);
  t.textContent = e[4];
  
  
});
const lg2 = el('g', {});


el('rect', {x:920, y:563, width:235, height:36, rx:4, fill:'#fff', 'fill-opacity':0.85, stroke:'#dddddd', 'stroke-width':1.2}, lg2);
drawMarker(lg2, 'gdot', 949, 581, COL.grey, 'legend-marker');
const t2 = el('text', {x:989, y:589, 'font-size':22, fill:'#000'}, lg2);
t2.textContent = 'MW stars (LTE)';


</script>
</body></html>
